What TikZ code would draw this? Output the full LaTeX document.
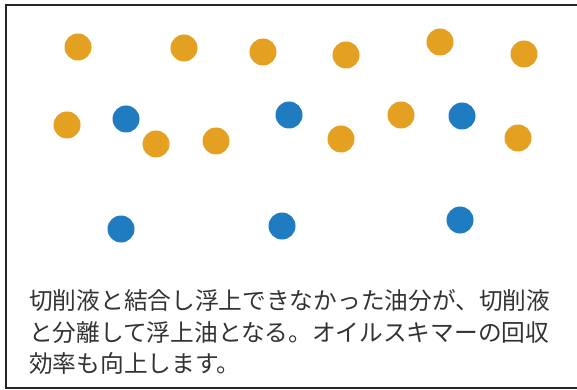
\documentclass[tikz,border=0pt]{standalone}
\usepackage{fontspec}
\newfontfamily\cjk{Noto Sans CJK JP}
\definecolor{oilorange}{HTML}{E3A021}
\definecolor{oilblue}{HTML}{1F7CC0}
\definecolor{txtgray}{HTML}{333333}
\begin{document}
\begin{tikzpicture}[x=1pt,y=-1pt,
  od/.style={circle,fill=oilorange,minimum size=27pt,inner sep=0pt},
  bd/.style={circle,fill=oilblue,minimum size=27pt,inner sep=0pt},
  txt/.style={anchor=west,inner sep=0pt,text=txtgray,font=\cjk\fontsize{23.7}{28}\selectfont}]
\useasboundingbox (0,0) rectangle (577,390);
\fill[white] (0,0) rectangle (577,390);
\draw[line width=2.2pt,black!85] (590,5) -- (6,5) -- (6,388) -- (590,388);
% top row
\node[od] (o1) at (78,47) {};
\node[od] (o2) at (184,48) {};
\node[od] (o3) at (263,52) {};
\node[od] (o4) at (346,55) {};
\node[od] (o5) at (440,42) {};
\node[od] (o6) at (524,54) {};
% middle row
\node[od] (o7) at (67,125) {};
\node[bd] (b1) at (126,119) {};
\node[od] (o8) at (156,144) {};
\node[od] (o9) at (216,141) {};
\node[bd] (b2) at (289,115) {};
\node[od] (o10) at (341,139) {};
\node[od] (o11) at (401,115) {};
\node[bd] (b3) at (462,116) {};
\node[od] (o12) at (518,138) {};
% bottom row
\node[bd] (b4) at (121,229) {};
\node[bd] (b5) at (282,226) {};
\node[bd] (b6) at (460,220) {};
% text
\node[txt] (t1) at (29,300) {切削液と結合し浮上できなかった油分が、切削液};
\node[txt] (t2) at (29,333) {と分離して浮上油となる。オイルスキマーの回収};
\node[txt] (t3) at (29,364) {効率も向上します。};
\end{tikzpicture}
\end{document}
